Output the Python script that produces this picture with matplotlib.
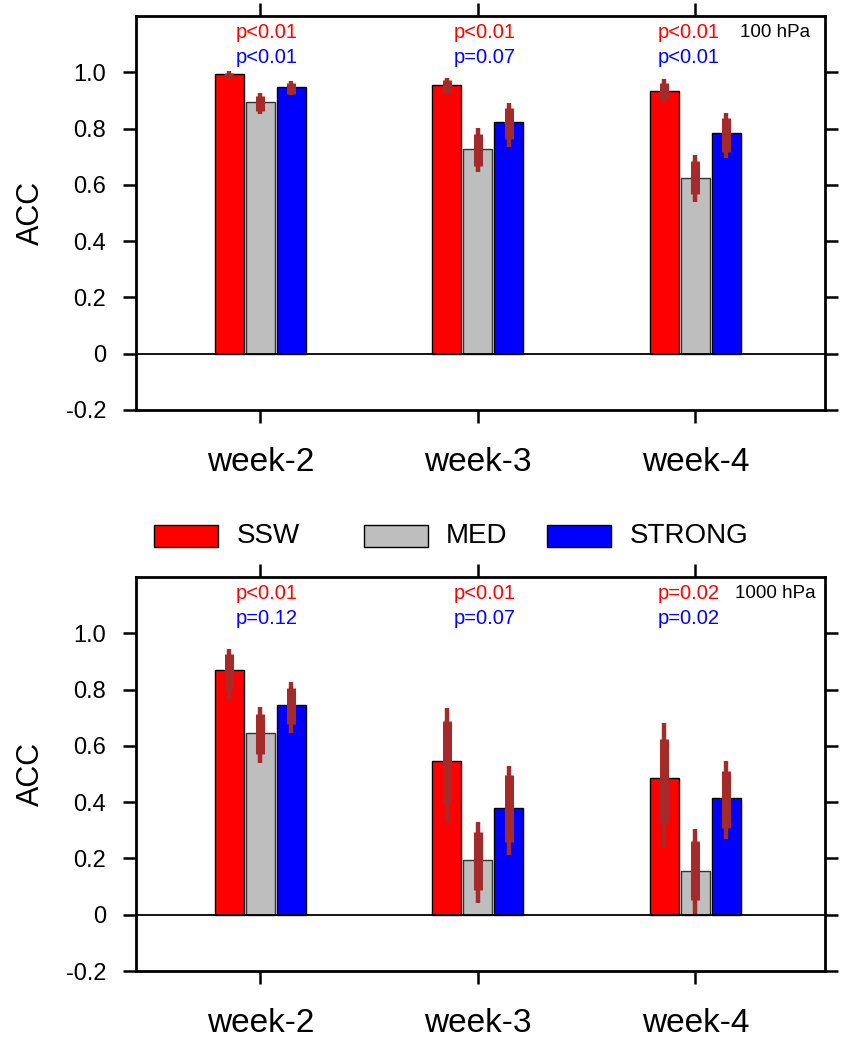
import matplotlib
matplotlib.use('Agg')
import matplotlib.pyplot as plt
from matplotlib.patches import Rectangle

plt.rcParams['font.family'] = ['Liberation Sans', 'DejaVu Sans']

weeks = ['week-2', 'week-3', 'week-4']
groups = ['SSW', 'MED', 'STRONG']
colors = ['#FF0000', '#BEBEBE', '#0000FF']
edgecolors = ['black', '#333333', 'black']
ebar_color = '#A52A2A'

yticks = [-0.2, 0.0, 0.2, 0.4, 0.6, 0.8, 1.0]
yticklabels = ['-0.2', '0', '0.2', '0.4', '0.6', '0.8', '1.0']

# ---- 100 hPa (rows: SSW, MED, STRONG; cols: week-2..4)
acc_100 = [[0.993, 0.954, 0.935],
           [0.896, 0.727, 0.626],
           [0.946, 0.824, 0.784]]
wlo_100 = [[0.977, 0.921, 0.896],
           [0.853, 0.647, 0.540],
           [0.920, 0.736, 0.697]]
whi_100 = [[1.003, 0.980, 0.975],
           [0.928, 0.801, 0.706],
           [0.968, 0.892, 0.857]]
blo_100 = [[0.982, 0.928, 0.904],
           [0.863, 0.668, 0.569],
           [0.924, 0.762, 0.718]]
bhi_100 = [[0.996, 0.973, 0.963],
           [0.916, 0.780, 0.683],
           [0.961, 0.872, 0.839]]
pred_100 = ['p<0.01', 'p<0.01', 'p<0.01']
pblue_100 = ['p<0.01', 'p=0.07', 'p<0.01']

# ---- 1000 hPa
acc_1000 = [[0.869, 0.546, 0.487],
            [0.644, 0.193, 0.156],
            [0.745, 0.378, 0.414]]
wlo_1000 = [[0.765, 0.327, 0.240],
            [0.538, 0.041, 0.000],
            [0.644, 0.213, 0.268]]
whi_1000 = [[0.943, 0.733, 0.680],
            [0.737, 0.331, 0.305],
            [0.827, 0.528, 0.546]]
blo_1000 = [[0.800, 0.398, 0.325],
            [0.571, 0.089, 0.051],
            [0.676, 0.260, 0.307]]
bhi_1000 = [[0.928, 0.689, 0.626],
            [0.713, 0.295, 0.262],
            [0.807, 0.496, 0.511]]
pred_1000 = ['p<0.01', 'p<0.01', 'p=0.02']
pblue_1000 = ['p=0.12', 'p=0.07', 'p=0.02']

W, H = 846, 1038
fig = plt.figure(figsize=(W / 100, H / 100), dpi=100)

def px_axes(left, top, right, bottom):
    return [left / W, 1 - bottom / H, (right - left) / W, (bottom - top) / H]

xpos = [1, 2, 3]
offset = 31 / 217.5
bw = 29 / 217.5
ptext_x = [1.03, 2.03, 2.97]

def draw_panel(ax, acc, wlo, whi, blo, bhi, pred, pblue, label):
    for g in range(3):
        xs = [x + (g - 1) * offset for x in xpos]
        ax.bar(xs, acc[g], width=bw, color=colors[g], edgecolor=edgecolors[g],
               linewidth=1.0, zorder=2)
        ax.vlines(xs, wlo[g], whi[g], colors=ebar_color, linewidth=3.2, zorder=3)
        ax.vlines(xs, blo[g], bhi[g], colors=ebar_color, linewidth=6.5, zorder=4)
    ax.axhline(0, color='black', linewidth=1.3, zorder=5)
    ax.set_xlim(0.4276, 3.5954)
    ax.set_ylim(-0.2, 1.2)
    ax.set_xticks(xpos)
    ax.set_xticklabels(weeks, fontsize=24)
    ax.set_yticks(yticks)
    ax.set_yticklabels(yticklabels, fontsize=17)
    ax.tick_params(direction='out', length=9.5, width=1.8, top=True, right=True)
    ax.tick_params(axis='x', pad=17)
    ax.tick_params(axis='y', pad=12)
    for s in ax.spines.values():
        s.set_linewidth(2.0)
    ax.set_ylabel('ACC', fontsize=22, labelpad=14)
    for i in range(3):
        ax.text(ptext_x[i], 0.957, pred[i], transform=ax.get_xaxis_transform(),
                ha='center', va='center', color='#FF0000', fontsize=14.5)
        ax.text(ptext_x[i], 0.895, pblue[i], transform=ax.get_xaxis_transform(),
                ha='center', va='center', color='#0000FF', fontsize=14.5)
    ax.text(0.928, 0.959, label, transform=ax.transAxes, ha='center', va='center',
            color='black', fontsize=13.5)

ax1 = fig.add_axes(px_axes(136, 16, 825, 410))
draw_panel(ax1, acc_100, wlo_100, whi_100, blo_100, bhi_100, pred_100, pblue_100, '100 hPa')
ax2 = fig.add_axes(px_axes(136, 577, 825, 971))
draw_panel(ax2, acc_1000, wlo_1000, whi_1000, blo_1000, bhi_1000, pred_1000, pblue_1000, '1000 hPa')

# legend
box_left = [154, 364, 547]
text_left = [237, 446, 630]
ly = 536
for g in range(3):
    fig.patches.append(Rectangle((box_left[g] / W, 1 - (ly + 11) / H), 64 / W, 22 / H,
                                 transform=fig.transFigure, facecolor=colors[g],
                                 edgecolor='black', linewidth=1.0))
    fig.text(text_left[g] / W, 1 - ly / H, groups[g], ha='left', va='center',
             fontsize=20, color='black')

fig.savefig('out.png', dpi=100)
